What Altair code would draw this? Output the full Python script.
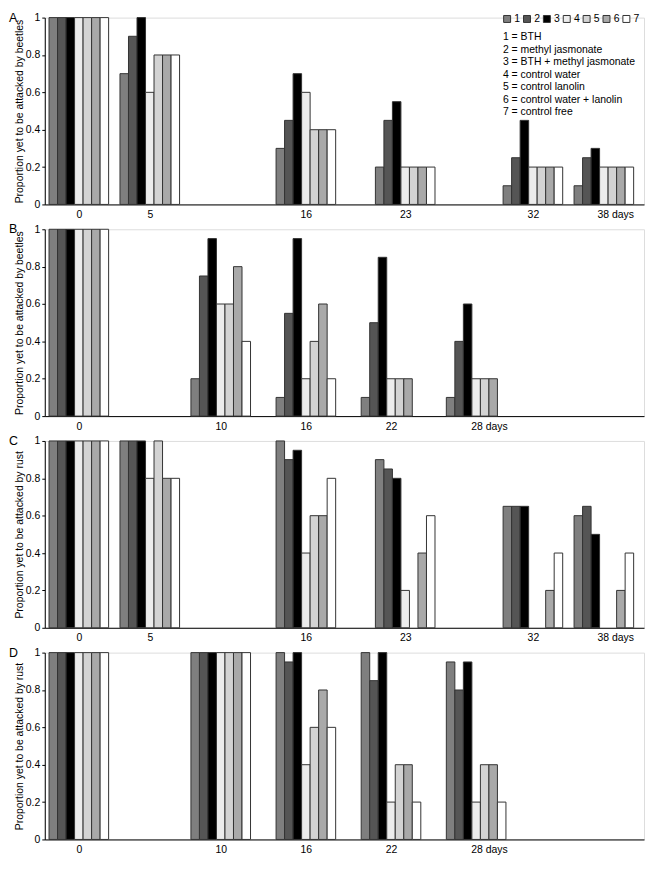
import altair as alt
import pandas as pd

FONT = "Liberation Sans"

treatments = ["1", "2", "3", "4", "5", "6", "7"]
treatment_names = [
    "1 = BTH",
    "2 = methyl jasmonate",
    "3 = BTH + methyl jasmonate",
    "4 = control water",
    "5 = control lanolin",
    "6 = control water + lanolin",
    "7 = control free",
]
colors = ["#7f7f7f", "#555555", "#000000", "#ececec", "#d3d3d3", "#a9a9a9", "#ffffff"]

# x positions of the groups, tick positions and tick labels
group_pos_ac = [0, 5, 16, 23, 32, 37]
tick_pos_ac = [0, 5, 16, 23, 32, 37.8]
tick_labels_ac = ["0", "5", "16", "23", "32", "38 days"]

group_pos_bd = [0, 10, 16, 22, 28]
tick_pos_bd = [0, 10, 16, 22, 28.9]
tick_labels_bd = ["0", "10", "16", "22", "28 days"]

# Panel A (beetles), one list per day, treatments 1..7
a_day0 = [1, 1, 1, 1, 1, 1, 1]
a_day5 = [0.7, 0.9, 1.0, 0.6, 0.8, 0.8, 0.8]
a_day16 = [0.3, 0.45, 0.7, 0.6, 0.4, 0.4, 0.4]
a_day23 = [0.2, 0.45, 0.55, 0.2, 0.2, 0.2, 0.2]
a_day32 = [0.1, 0.25, 0.45, 0.2, 0.2, 0.2, 0.2]
a_day38 = [0.1, 0.25, 0.3, 0.2, 0.2, 0.2, 0.2]

# Panel B (beetles)
b_day0 = [1, 1, 1, 1, 1, 1, 1]
b_day10 = [0.2, 0.75, 0.95, 0.6, 0.6, 0.8, 0.4]
b_day16 = [0.1, 0.55, 0.95, 0.2, 0.4, 0.6, 0.2]
b_day22 = [0.1, 0.5, 0.85, 0.2, 0.2, 0.2, 0]
b_day28 = [0.1, 0.4, 0.6, 0.2, 0.2, 0.2, 0]

# Panel C (rust)
c_day0 = [1, 1, 1, 1, 1, 1, 1]
c_day5 = [1, 1, 1, 0.8, 1, 0.8, 0.8]
c_day16 = [1, 0.9, 0.95, 0.4, 0.6, 0.6, 0.8]
c_day23 = [0.9, 0.85, 0.8, 0.2, 0, 0.4, 0.6]
c_day32 = [0.65, 0.65, 0.65, 0, 0, 0.2, 0.4]
c_day38 = [0.6, 0.65, 0.5, 0, 0, 0.2, 0.4]

# Panel D (rust)
d_day0 = [1, 1, 1, 1, 1, 1, 1]
d_day10 = [1, 1, 1, 1, 1, 1, 1]
d_day16 = [1, 0.95, 1, 0.4, 0.6, 0.8, 0.6]
d_day22 = [1, 0.85, 1, 0.2, 0.4, 0.4, 0.2]
d_day28 = [0.95, 0.8, 0.95, 0.2, 0.4, 0.4, 0.2]

panels = [
    ("A", "Proportion yet to be attacked by beetles", group_pos_ac, tick_pos_ac, tick_labels_ac,
     [a_day0, a_day5, a_day16, a_day23, a_day32, a_day38]),
    ("B", "Proportion yet to be attacked by beetles", group_pos_bd, tick_pos_bd, tick_labels_bd,
     [b_day0, b_day10, b_day16, b_day22, b_day28]),
    ("C", "Proportion yet to be attacked by rust", group_pos_ac, tick_pos_ac, tick_labels_ac,
     [c_day0, c_day5, c_day16, c_day23, c_day32, c_day38]),
    ("D", "Proportion yet to be attacked by rust", group_pos_bd, tick_pos_bd, tick_labels_bd,
     [d_day0, d_day10, d_day16, d_day22, d_day28]),
]

W = 603
H = 188
BW = 0.6  # bar width in day units
X_DOMAIN = [-2.4, 39.83]

charts = []
for letter, ytitle, gpos, tpos, tlabels, rows in panels:
    recs = []
    for p, vals in zip(gpos, rows):
        for t, v in zip(treatments, vals):
            recs.append({"pos": p, "treatment": t, "value": v})
    df = pd.DataFrame(recs)

    label_expr = "".join(
        f"datum.value == {p} ? '{l}' : " for p, l in zip(tpos, tlabels)
    ) + "''"

    legend = None
    if letter == "A":
        legend = alt.Legend(
            orient="none", legendX=460, legendY=-4, direction="horizontal",
            columns=7, title=None, symbolType="square", symbolSize=49,
            symbolStrokeColor="#333333", symbolStrokeWidth=1, symbolOpacity=1,
            labelFontSize=10.5, labelFont=FONT, labelColor="black",
            labelOffset=2, columnPadding=0, padding=0,
        )

    bars = alt.Chart(df).transform_filter(
        alt.datum.value > 0
    ).transform_calculate(
        xl=f"datum.pos + (toNumber(datum.treatment) - 4) * {BW} - {BW / 2}",
        xr=f"datum.pos + (toNumber(datum.treatment) - 4) * {BW} + {BW / 2}",
    ).mark_bar(stroke="#333333", strokeWidth=1, opacity=1).encode(
        x=alt.X("xl:Q", scale=alt.Scale(domain=X_DOMAIN, nice=False, zero=False),
                axis=alt.Axis(values=tpos, labelExpr=label_expr, ticks=False,
                              labelPadding=5, title=None, grid=False,
                              labelFlush=False, labelOverlap=False,
                              domainColor="black", labelFontSize=10.5,
                              labelColor="black", labelFont=FONT)),
        x2="xr:Q",
        y=alt.Y("value:Q", scale=alt.Scale(domain=[0, 1], nice=False),
                axis=alt.Axis(values=[0, 0.2, 0.4, 0.6, 0.8, 1], format=".1~f",
                              tickSize=3, labelPadding=2, grid=False,
                              title=ytitle, titleFontSize=10.5, titleFontWeight="normal",
                              titlePadding=1, titleColor="black", titleFont=FONT,
                              domainColor="black", tickColor="black",
                              labelFontSize=10.5, labelColor="black", labelFont=FONT)),
        y2=alt.datum(0),
        color=alt.Color("treatment:N", scale=alt.Scale(domain=treatments, range=colors),
                        legend=legend),
    )

    dummy = pd.DataFrame({"k": [letter]})
    letter_mark = alt.Chart(dummy).mark_text(
        align="left", baseline="middle", fontSize=12.5, font=FONT, color="black"
    ).encode(x=alt.value(-36), y=alt.value(0), text="k:N")

    layers = [bars, letter_mark]
    if letter == "A":
        names_mark = alt.Chart(dummy).mark_text(
            align="left", baseline="top", fontSize=10.5, font=FONT, color="black",
            lineHeight=12.5,
        ).encode(x=alt.value(461), y=alt.value(15), text=alt.value(treatment_names))
        layers.append(names_mark)

    charts.append(alt.layer(*layers).properties(width=W, height=H))

chart = alt.vconcat(*charts, spacing=2).resolve_legend(color="independent").properties(
    padding=0
).configure_view(strokeWidth=0).configure(font=FONT)

chart.save("out.html", embed_options={"renderer": "svg", "actions": False})
